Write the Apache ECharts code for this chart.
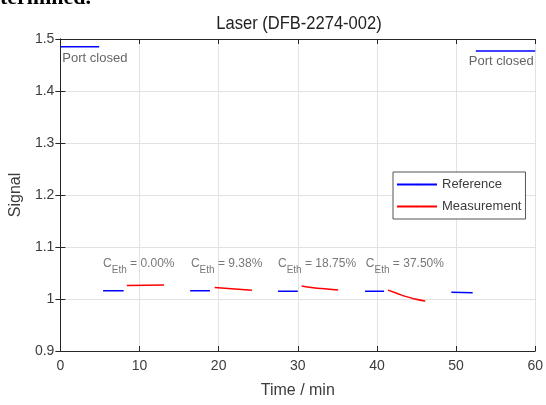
<!DOCTYPE html>
<html>
<head>
<meta charset="utf-8">
<script src="https://cdn.jsdelivr.net/npm/echarts@6/dist/echarts.min.js"></script>
<style>
  html, body { margin: 0; padding: 0; background: #fff; }
  #chart { width: 546px; height: 405px; }
</style>
</head>
<body>
<div id="chart"></div>
<script>
// reference segments (time in min, signal)
const refTimes = [[0, 4.9], [5.4, 8.0], [16.4, 18.9], [27.5, 30.0], [38.5, 40.9], [49.4, 52.1], [52.5, 60]];
const refValues = [[1.485, 1.485], [1.016, 1.016], [1.016, 1.016], [1.015, 1.015], [1.015, 1.015], [1.013, 1.012], [1.477, 1.477]];

// measurement segments
const measTimes = [[8.4, 13.1], [19.5, 24.2], [30.5, 31.5, 33.0, 35.1], [41.4, 42.5, 43.6, 44.8, 46.1]];
const measValues = [[1.026, 1.027], [1.022, 1.017], [1.025, 1.0225, 1.020, 1.0175], [1.017, 1.011, 1.005, 1.000, 0.996]];

// ethanol concentration labels
const concLabels = ['0.00%', '9.38%', '18.75%', '37.50%'];
const concTimes = [5.4, 16.5, 27.5, 38.6];
const concLevel = 1.068;

// "Port closed" notes
const portTimes = [0.25, 51.6];
const portValues = [1.463, 1.457];

const FONT = 'Liberation Sans, Arial, sans-serif';
const TXT = '#3c3c3c';

const chart = echarts.init(document.getElementById('chart'));

const pairs = (ts, vs) => ts.map((t, i) => [t, vs[i]]);
const series = [];

refTimes.forEach((ts, k) => {
  series.push({
    name: 'Reference', type: 'line', symbol: 'none', silent: true,
    data: pairs(ts, refValues[k]),
    lineStyle: { color: '#0000ff', width: 1.5 },
    itemStyle: { color: '#0000ff' }
  });
});

measTimes.forEach((ts, k) => {
  series.push({
    name: 'Measurement', type: 'line', symbol: 'none', silent: true, smooth: ts.length > 2,
    data: pairs(ts, measValues[k]),
    lineStyle: { color: '#ff0000', width: 1.5 },
    itemStyle: { color: '#ff0000' }
  });
});

series.push({
  type: 'scatter', symbolSize: 0, silent: true,
  data: concTimes.map((t, i) => ({
    value: [t, concLevel],
    label: { formatter: '{c|C}{s|Eth}{c| = ' + concLabels[i] + '}' }
  })),
  label: {
    show: true, position: [0, 0], align: 'left', verticalAlign: 'middle',
    rich: {
      c: { fontSize: 12, color: '#555', fontFamily: FONT },
      s: { fontSize: 10, color: '#555', fontFamily: FONT, padding: [14, 0, 0, 0] }
    }
  }
});

series.push({
  type: 'scatter', symbolSize: 0, silent: true,
  data: pairs(portTimes, portValues),
  label: {
    show: true, position: [0, 0], align: 'left', verticalAlign: 'middle',
    formatter: 'Port closed', fontSize: 13, color: TXT, fontFamily: FONT
  }
});

const baseX = {
  type: 'value', min: 0, max: 60, interval: 10,
  axisLine: { lineStyle: { color: '#262626', width: 1 } },
  axisTick: { inside: true, length: 5, lineStyle: { color: '#262626' } }
};
const baseY = {
  type: 'value', min: 0.9, max: 1.5, interval: 0.1,
  axisLine: { show: true, lineStyle: { color: '#262626', width: 1 } },
  axisTick: { show: true, inside: true, length: 5, lineStyle: { color: '#262626' } }
};

chart.setOption({
  animation: false,
  backgroundColor: '#fff',
  grid: { left: 59, right: 9, top: 39, bottom: 54 },
  legend: {
    data: ['Reference', 'Measurement'],
    orient: 'vertical', left: 393, top: 172,
    itemWidth: 40, itemHeight: 2, itemGap: 9,
    padding: [6, 4, 6, 3],
    borderColor: '#555', borderWidth: 1, backgroundColor: '#fff',
    textStyle: { fontSize: 13, color: TXT, fontFamily: FONT }
  },
  xAxis: [
    Object.assign({}, baseX, {
      position: 'bottom',
      name: 'Time / min', nameLocation: 'middle', nameGap: 32,
      nameTextStyle: { fontSize: 16, color: TXT, fontFamily: FONT },
      axisLabel: { fontSize: 14, color: TXT, fontFamily: FONT, margin: 8 },
      splitLine: { show: true, lineStyle: { color: '#e2e2e2' } }
    }),
    Object.assign({}, baseX, {
      position: 'top', axisLabel: { show: false }, splitLine: { show: false }
    })
  ],
  yAxis: [
    Object.assign({}, baseY, {
      position: 'left',
      name: 'Signal', nameLocation: 'middle', nameGap: 31,
      nameTextStyle: { fontSize: 16, color: TXT, fontFamily: FONT },
      axisLabel: {
        fontSize: 14, color: TXT, fontFamily: FONT, margin: 6,
        formatter: v => String(+v.toFixed(1))
      },
      splitLine: { show: true, lineStyle: { color: '#e2e2e2' } }
    }),
    Object.assign({}, baseY, {
      position: 'right', axisLabel: { show: false }, splitLine: { show: false }
    })
  ],
  graphic: [
    {
      type: 'text', x: 299, y: 24, scaleX: 0.87,
      style: { text: 'Laser (DFB-2274-002)', font: '19px ' + FONT, fill: '#222', align: 'center', verticalAlign: 'middle' }
    },
    {
      type: 'text', x: 0, y: 9,
      style: { text: 'termined.', font: 'bold 22px Liberation Serif, serif', fill: '#000', verticalAlign: 'bottom' }
    }
  ],
  series: series
});
</script>
</body>
</html>
